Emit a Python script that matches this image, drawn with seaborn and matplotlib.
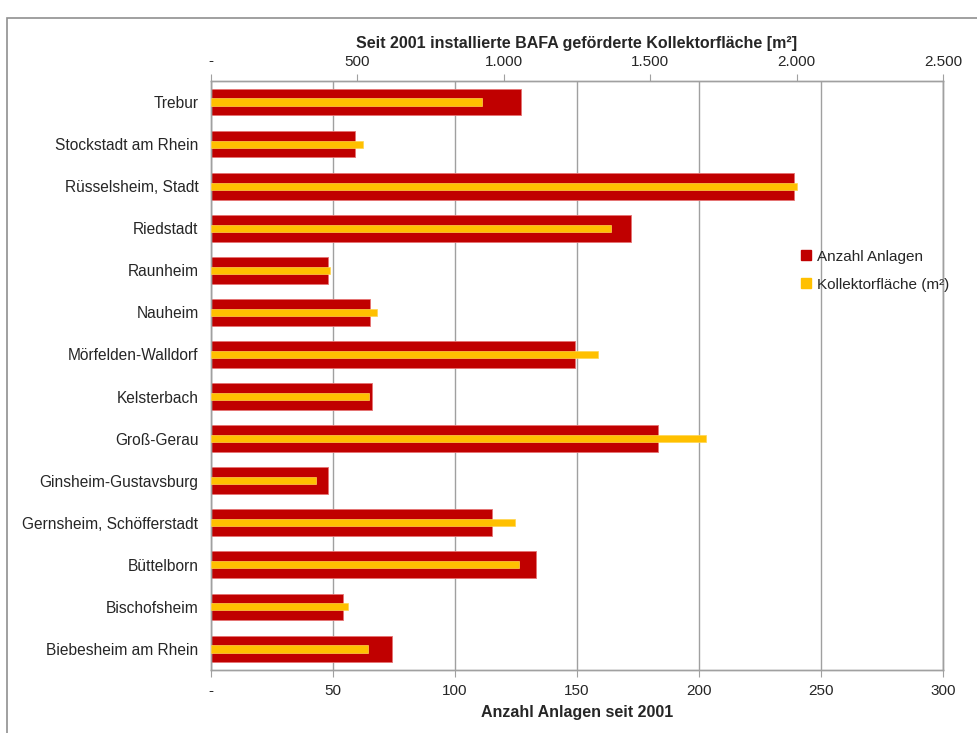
import matplotlib
matplotlib.use("Agg")
import matplotlib.pyplot as plt
import matplotlib.ticker as mticker
from matplotlib.lines import Line2D
from matplotlib.patches import Rectangle
import seaborn as sns
import pandas as pd

gemeinden = ["Trebur", "Stockstadt am Rhein", "Rüsselsheim, Stadt", "Riedstadt",
             "Raunheim", "Nauheim", "Mörfelden-Walldorf", "Kelsterbach",
             "Groß-Gerau", "Ginsheim-Gustavsburg", "Gernsheim, Schöfferstadt",
             "Büttelborn", "Bischofsheim", "Biebesheim am Rhein"]
anzahl = [127, 59, 239, 172, 48, 65, 149, 66, 183, 48, 115, 133, 54, 74]
flaeche = [926, 519, 2000, 1365, 405, 568, 1321, 541, 1691, 357, 1037, 1052, 467, 537]

red = "#C00000"
yellow = "#FFC000"

df = pd.DataFrame({"Gemeinde": gemeinden, "Anzahl": anzahl, "Flaeche": flaeche})

sns.set_style("white")
plt.rcParams["font.family"] = ["Liberation Sans", "DejaVu Sans"]

fig = plt.figure(figsize=(9.78, 7.33), dpi=100)
ax = fig.add_axes([211/978, 1-670/733, (943-211)/978, (670-81)/733])

sns.barplot(data=df, y="Gemeinde", x="Anzahl", orient="h", color=red, width=0.635,
            saturation=1, ax=ax, edgecolor="#e57373", linewidth=0.6, zorder=2)
ax.set_xlim(0, 300)
ax.xaxis.set_major_locator(mticker.MultipleLocator(50))
ax.xaxis.set_major_formatter(mticker.FuncFormatter(lambda v, p: "-" if v == 0 else f"{int(v)}"))
ax.grid(axis="x", color="#a0a0a0", linewidth=1, zorder=0)
ax.set_axisbelow(True)

ax2 = ax.twiny()
sns.barplot(data=df, y="Gemeinde", x="Flaeche", orient="h", color=yellow, width=0.17,
            saturation=1, ax=ax2, edgecolor="#ffd54f", linewidth=0.5, zorder=3)
ax2.set_xlim(0, 2500)
ax2.xaxis.set_major_locator(mticker.MultipleLocator(500))
ax2.xaxis.set_major_formatter(mticker.FuncFormatter(
    lambda v, p: "-" if v == 0 else f"{int(v):,}".replace(",", ".")))
ax2.grid(False)

n = len(gemeinden)
ax.set_ylim(n - 0.5, -0.5)
ax2.set_ylim(n - 0.5, -0.5)

ax.set_xlabel("Anzahl Anlagen seit 2001", fontsize=11.5, fontweight="bold", labelpad=5)
ax.set_ylabel("")
ax2.set_xlabel("Seit 2001 installierte BAFA geförderte Kollektorfläche [m²]",
               fontsize=11.5, fontweight="bold", labelpad=5)
ax2.set_ylabel("")

ax.set_yticks(range(n))
ax.set_yticklabels(gemeinden, fontsize=11.2)
ax.tick_params(axis="y", which="major", length=0, pad=9)
ax.yaxis.set_minor_locator(mticker.FixedLocator([i - 0.5 for i in range(n + 1)]))
ax.tick_params(axis="y", which="minor", length=5, color="#a0a0a0", width=1)
ax.tick_params(axis="x", labelsize=11, length=5, color="#a0a0a0", pad=5)
ax2.tick_params(axis="x", labelsize=11, length=5, color="#a0a0a0", pad=4)
ax2.tick_params(axis="y", left=False, right=False, labelleft=False, labelright=False)

for a in (ax, ax2):
    for s in ("left", "top", "bottom", "right"):
        a.spines[s].set_color("#a0a0a0")
        a.spines[s].set_linewidth(1)

handles = [Line2D([], [], marker="s", linestyle="", color=red, markersize=7, label="Anzahl Anlagen"),
           Line2D([], [], marker="s", linestyle="", color=yellow, markersize=7, label="Kollektorfläche (m²)")]
fig.legend(handles=handles, loc="upper left", bbox_to_anchor=(785/978, 1-236/733),
           frameon=False, fontsize=11, handletextpad=0.2, labelspacing=0.9,
           handlelength=1.0)

fig.patches.append(Rectangle((7/978, -0.05), 1.2, 1.05 - 18/733, transform=fig.transFigure,
                             fill=False, edgecolor="#909090", linewidth=1.2))

fig.savefig("out.png", dpi=100)
